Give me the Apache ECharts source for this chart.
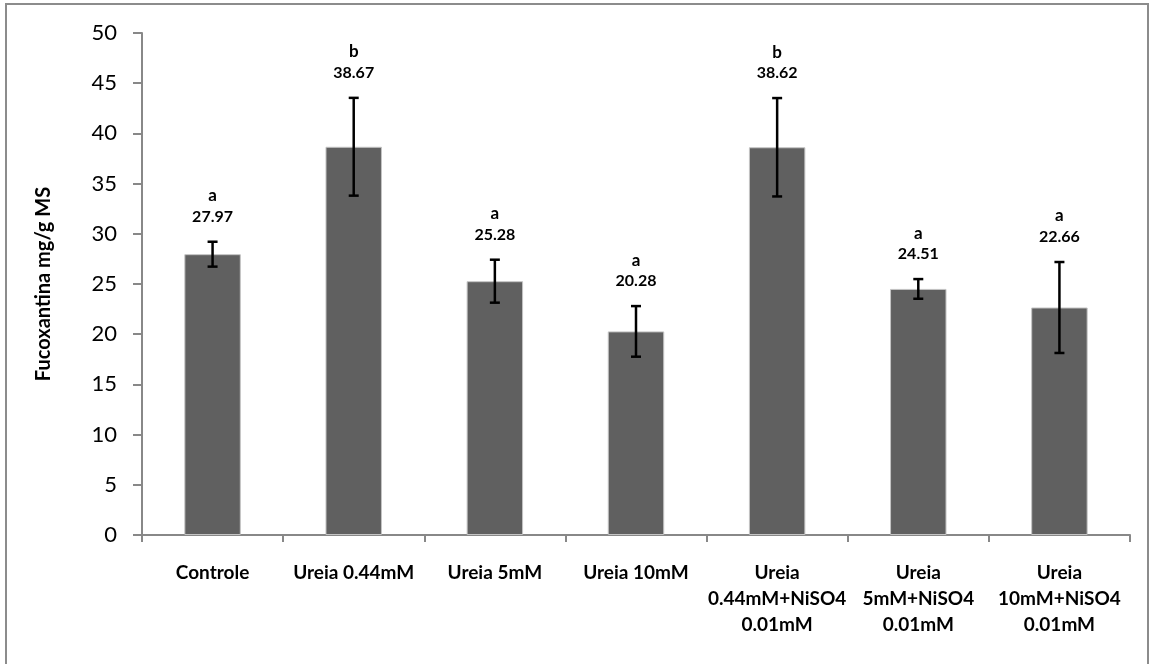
<!DOCTYPE html>
<html>
<head>
<meta charset="utf-8">
<script src="https://cdn.jsdelivr.net/npm/echarts@6/dist/echarts.min.js"></script>
<style>
  html, body { margin: 0; padding: 0; background: #fff; }
  #chart { width: 1154px; height: 664px; }
</style>
</head>
<body>
<div id="chart"></div>
<script>
// Fucoxanthin content per treatment (mean ± SD) with significance letters
const categories = [
  'Controle',
  'Ureia 0.44mM',
  'Ureia 5mM',
  'Ureia 10mM',
  'Ureia\n0.44mM+NiSO4\n0.01mM',
  'Ureia\n5mM+NiSO4\n0.01mM',
  'Ureia\n10mM+NiSO4\n0.01mM'
];
const means = [27.97, 38.67, 25.28, 20.28, 38.62, 24.51, 22.66];
const errors = [1.24, 4.87, 2.14, 2.52, 4.9, 0.98, 4.53];
const letters = ['a', 'b', 'a', 'a', 'b', 'a', 'a'];
const yTicks = { min: 0, max: 50, interval: 5 };

const FONT = 'Lato, "Open Sans", sans-serif';

const chart = echarts.init(document.getElementById('chart'));

const errorData = means.map((m, i) => [i, m, errors[i]]);

chart.setOption({
  animation: false,
  backgroundColor: '#ffffff',
  grid: { left: 142, right: 24, top: 33, bottom: 129, containLabel: false },
  graphic: [{
    type: 'rect',
    silent: true,
    shape: { x: 6, y: 4, width: 1142, height: 700 },
    style: { fill: 'none', stroke: '#8c8c8c', lineWidth: 2 }
  }],
  xAxis: {
    type: 'category',
    data: categories,
    axisLine: { lineStyle: { color: '#888888', width: 2 } },
    axisTick: { show: true, alignWithLabel: false, length: 7, lineStyle: { color: '#888888', width: 2 } },
    axisLabel: {
      interval: 0,
      margin: 25,
      color: '#000',
      fontFamily: FONT,
      fontWeight: 'bold',
      fontSize: 19,
      lineHeight: 26
    }
  },
  yAxis: {
    type: 'value',
    min: yTicks.min,
    max: yTicks.max,
    interval: yTicks.interval,
    name: 'Fucoxantina mg/g MS',
    nameLocation: 'middle',
    nameGap: 88,
    nameTextStyle: { color: '#000', fontFamily: FONT, fontWeight: 'bold', fontSize: 20 },
    splitLine: { show: false },
    axisLine: { show: true, lineStyle: { color: '#888888', width: 2 } },
    axisTick: { show: true, length: 9, lineStyle: { color: '#888888', width: 2 } },
    axisLabel: { color: '#000', fontFamily: FONT, fontSize: 22, margin: 25 }
  },
  series: [
    {
      type: 'bar',
      data: means,
      barWidth: '40%',
      itemStyle: { color: '#606060', borderColor: '#c4c4c4', borderWidth: 1 },
      z: 2
    },
    {
      type: 'custom',
      data: errorData,
      z: 5,
      renderItem: function (params, api) {
        const i = api.value(0);
        const m = api.value(1);
        const e = api.value(2);
        const letter = letters[params.dataIndex];
        const top = api.coord([i, m + e]);
        const bot = api.coord([i, m - e]);
        const x = top[0];
        const cap = 5;
        const lineStyle = { stroke: '#000', lineWidth: 2.5 };
        return {
          type: 'group',
          children: [
            { type: 'line', shape: { x1: x, y1: top[1], x2: x, y2: bot[1] }, style: lineStyle },
            { type: 'line', shape: { x1: x - cap, y1: top[1], x2: x + cap, y2: top[1] }, style: lineStyle },
            { type: 'line', shape: { x1: x - cap, y1: bot[1], x2: x + cap, y2: bot[1] }, style: lineStyle },
            {
              type: 'text',
              style: {
                x: x, y: top[1] - 25,
                text: m.toFixed(2),
                fill: '#000',
                font: 'bold 16px ' + FONT,
                align: 'center',
                verticalAlign: 'middle'
              }
            },
            {
              type: 'text',
              style: {
                x: x, y: top[1] - 46,
                text: letter,
                fill: '#000',
                font: 'bold 17px ' + FONT,
                align: 'center',
                verticalAlign: 'middle'
              }
            }
          ]
        };
      }
    }
  ]
});
</script>
</body>
</html>
